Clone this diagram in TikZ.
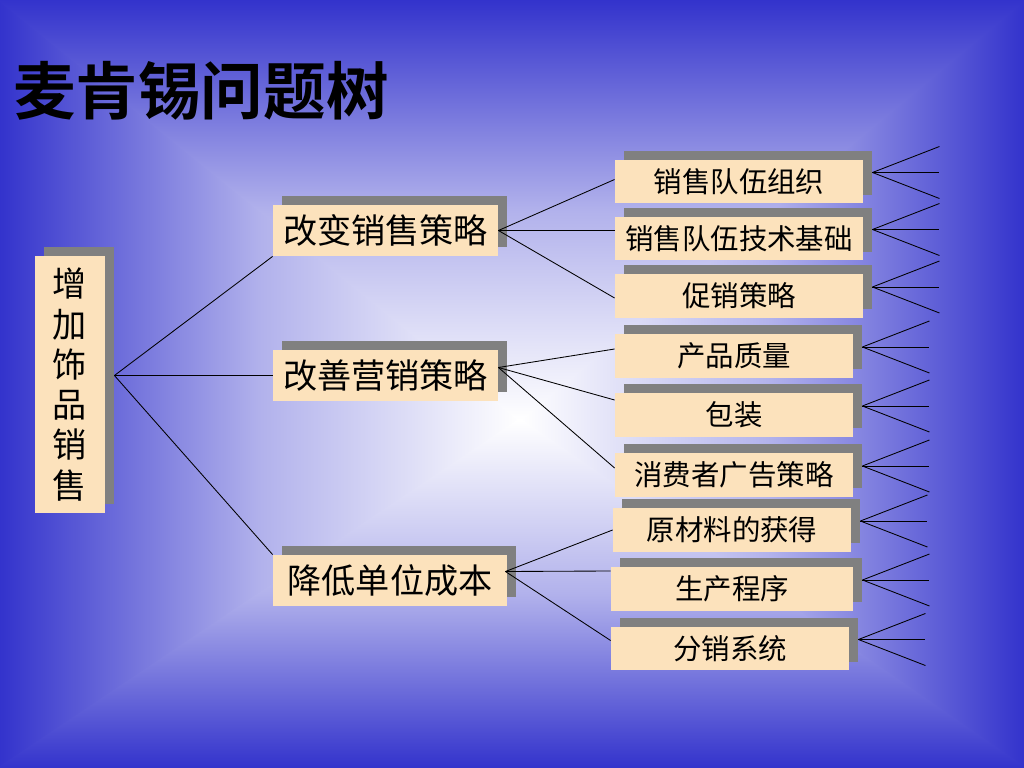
\documentclass[tikz,border=0pt]{standalone}
\usepackage{fontspec}
\newfontfamily\cjk[BoldFont={Noto Sans CJK SC Bold}]{Noto Sans CJK SC}
\usetikzlibrary{shadows}
\definecolor{slideblue}{RGB}{51,51,204}
\definecolor{boxfill}{RGB}{252,226,188}
\definecolor{shadowgray}{RGB}{128,128,128}

\begin{document}
\begin{tikzpicture}[x=0.703125pt, y=-0.703125pt, line width=0.6pt,
		box/.style={fill=boxfill, inner sep=0pt, text=black,
			drop shadow={shadow xshift=6.3pt, shadow yshift=6.3pt, fill=shadowgray, opacity=1}},
		main box/.style={box, minimum width=158.2pt, minimum height=35.9pt, font=\cjk\fontsize{24}{28}\selectfont},
		sub box/.style={box, minimum width=167.3pt, minimum height=30.9pt, font=\cjk\fontsize{20}{24}\selectfont}]
	
	% background, gradient from the centre
	\useasboundingbox (0,0) rectangle (1024,768);
	\clip (0,0) rectangle (1024,768);
	\coordinate (mid) at (520,420);
	\fill[slideblue] (0,0) rectangle (1024,768);
	\shade[left color=slideblue, right color=white, middle color=slideblue!38!white] (0,0) -- (0,768) -- (mid) -- cycle;
	\shade[left color=white, right color=slideblue, middle color=slideblue!38!white] (1024,0) -- (1024,768) -- (mid) -- cycle;
	\shade[top color=slideblue, bottom color=white, middle color=slideblue!38!white] (-3,0) -- (1027,0) -- (523,420) -- (517,420) -- cycle;
	\shade[top color=white, bottom color=slideblue, middle color=slideblue!38!white] (-3,768) -- (1027,768) -- (523,420) -- (517,420) -- cycle;
	
	\node[anchor=west, font=\cjk\bfseries\fontsize{44}{52}\selectfont] (title) at (8,91) {麦肯锡问题树};
	
	\node[box, minimum width=49.2pt, minimum height=180.7pt, align=center,
		font=\cjk\fontsize{24}{28.3}\selectfont] (root) at (70,384.5) {增\\加\\饰\\品\\销\\售};
	
	\node[main box] (A) at (385.5,230.5) {改变销售策略};
	\node[main box] (B) at (385.5,375.5) {改善营销策略};
	\node[main box, minimum width=164.5pt] (C) at (390,580.5) {降低单位成本};
	
	\node[sub box, minimum width=174.4pt] (L1) at (739,181.5) {销售队伍组织};
	\node[sub box, minimum width=174.4pt] (L2) at (739,238.5) {销售队伍技术基础};
	\node[sub box, minimum width=174.4pt] (L3) at (739,296) {促销策略};
	\node[sub box] (M1) at (734,356) {产品质量};
	\node[sub box] (M2) at (734,415) {包装};
	\node[sub box] (M3) at (734,475) {消费者广告策略};
	\node[sub box] (C1) at (732,530) {原材料的获得};
	\node[sub box, minimum width=170.2pt] (C2) at (732,589) {生产程序};
	\node[sub box] (C3) at (730,648.5) {分销系统};
	
	\path ([shift={(9,-9)}]root.east) edge (A.south west)
	edge (B.west)
	edge (C.north west);
	
	\path (A.east) edge ([shift={(0,-2)}]L1.west)
	edge ([shift={(0,-8)}]L2.west)
	edge ([shift={(0,2)}]L3.west);
	\path ([shift={(0,-8)}]B.east) edge ([shift={(0,-7)}]M1.west)
	edge ([shift={(0,-15)}]M2.west)
	edge ([shift={(0,-7)}]M3.west);
	\path ([shift={(-2,-9)}]C.east) edge (C1.west)
	edge ([shift={(0,-18)}]C2.west)
	edge ([shift={(0,-8)}]C3.west);
	
	% open branches on the right
	\foreach \n in {L1,L2,L3,M1,M2,M3,C1,C2,C3}{
		\coordinate (\n-o) at ([shift={(9,-9)}]\n.east);
		\coordinate (\n-a) at ([shift={(67,-26)}]\n-o);
		\coordinate (\n-b) at ([shift={(67,0)}]\n-o);
		\coordinate (\n-c) at ([shift={(67,26)}]\n-o);
		\path (\n-o) edge (\n-a) edge (\n-b) edge (\n-c);
	}
\end{tikzpicture}
\end{document}
